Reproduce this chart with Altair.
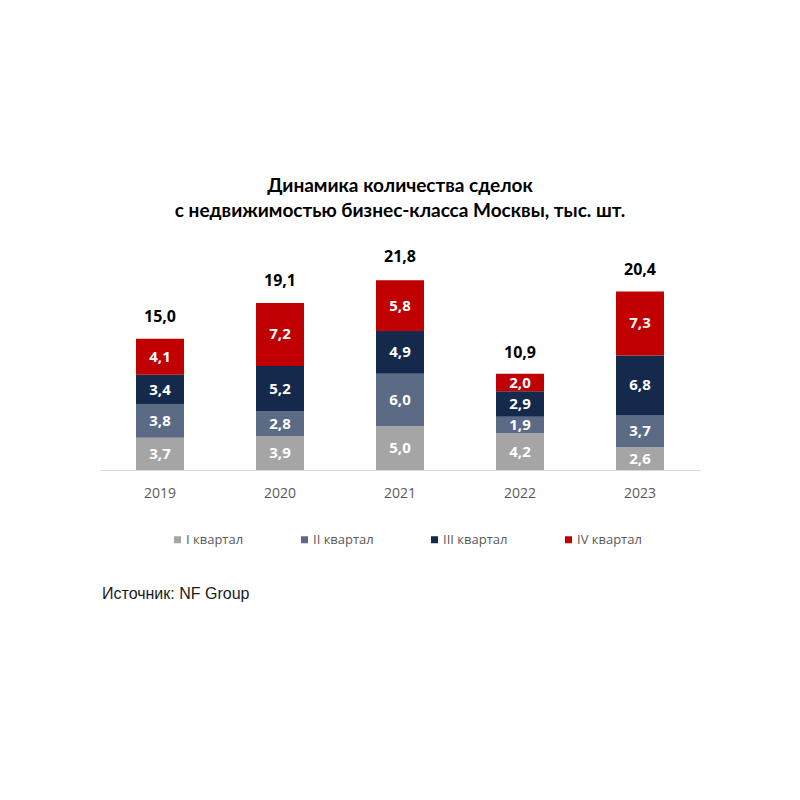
import altair as alt
import pandas as pd

years = ["2019", "2020", "2021", "2022", "2023"]
quarters = ["I квартал", "II квартал", "III квартал", "IV квартал"]
q1 = [3.7, 3.9, 5.0, 4.2, 2.6]
q2 = [3.8, 2.8, 6.0, 1.9, 3.7]
q3 = [3.4, 5.2, 4.9, 2.9, 6.8]
q4 = [4.1, 7.2, 5.8, 2.0, 7.3]
totals = [15.0, 19.1, 21.8, 10.9, 20.4]
colors = ["#A5A5A5", "#5B6B86", "#15294D", "#C00000"]

rows = []
for qi, (q, vals) in enumerate(zip(quarters, [q1, q2, q3, q4])):
    for y, v in zip(years, vals):
        rows.append({"year": y, "quarter": q, "qi": qi, "value": v,
                     "label": f"{v:.1f}".replace(".", ",")})
df = pd.DataFrame(rows)
tot = pd.DataFrame({"year": years, "total": totals,
                    "label": [f"{t:.1f}".replace(".", ",") for t in totals]})

FONT = "Open Sans"

x = alt.X("year:N", sort=years, title=None,
          scale=alt.Scale(paddingInner=0.6, paddingOuter=0.3),
          axis=alt.Axis(labelAngle=0, ticks=False, domainColor="#D9D9D9",
                        domainWidth=1, labelColor="#595959", labelFontSize=14,
                        labelFont=FONT, labelPadding=16))
yscale = alt.Scale(domain=[0, 24])

base = alt.Chart(df).transform_stack(
    stack="value", groupby=["year"], sort=[alt.SortField("qi")], as_=["y0", "y1"]
).transform_calculate(mid="(datum.y0 + datum.y1) / 2")

bars = base.mark_bar().encode(
    x=x,
    y=alt.Y("y0:Q", scale=yscale, axis=None),
    y2="y1:Q",
    color=alt.Color("quarter:N", sort=quarters,
                    scale=alt.Scale(domain=quarters, range=colors),
                    legend=alt.Legend(title=None, orient="none", direction="horizontal",
                                      columns=4, legendX=71, legendY=273,
                                      symbolType="square", symbolSize=49,
                                      symbolStrokeWidth=0, labelFontSize=13,
                                      labelColor="#595959", labelFont=FONT,
                                      labelOffset=2, columnPadding=54, padding=0)),
)

seg_text = base.mark_text(color="white", fontWeight="bold", fontSize=15, font=FONT,
                          baseline="middle").encode(
    x=alt.X("year:N", sort=years),
    y=alt.Y("mid:Q", scale=yscale),
    text="label:N",
)

tot_text = alt.Chart(tot).mark_text(color="black", fontWeight="bold", fontSize=16,
                                    font=FONT, baseline="middle", dy=-22).encode(
    x=alt.X("year:N", sort=years),
    y=alt.Y("total:Q", scale=yscale),
    text="label:N",
)

source = alt.Chart(pd.DataFrame({"t": ["Источник: NF Group"]})).mark_text(
    align="left", baseline="middle", fontSize=16, font="Liberation Sans", color="#1a1a1a"
).encode(x=alt.value(2), y=alt.value(334), text="t:N")

chart = alt.layer(bars, seg_text, tot_text, source).properties(
    width=600, height=210,
    title=alt.Title(["Динамика количества сделок",
                     "с недвижимостью бизнес-класса Москвы, тыс. шт."],
                    fontSize=19, fontWeight="bold", font="Lato", anchor="middle",
                    color="black", lineHeight=25, offset=28),
    padding={"left": 92, "top": 252, "right": 92, "bottom": 200},
    autosize=alt.AutoSizeParams(type="none"),
).configure_view(stroke=None)

chart.save("out.html", embed_options={"renderer": "svg", "actions": False})
